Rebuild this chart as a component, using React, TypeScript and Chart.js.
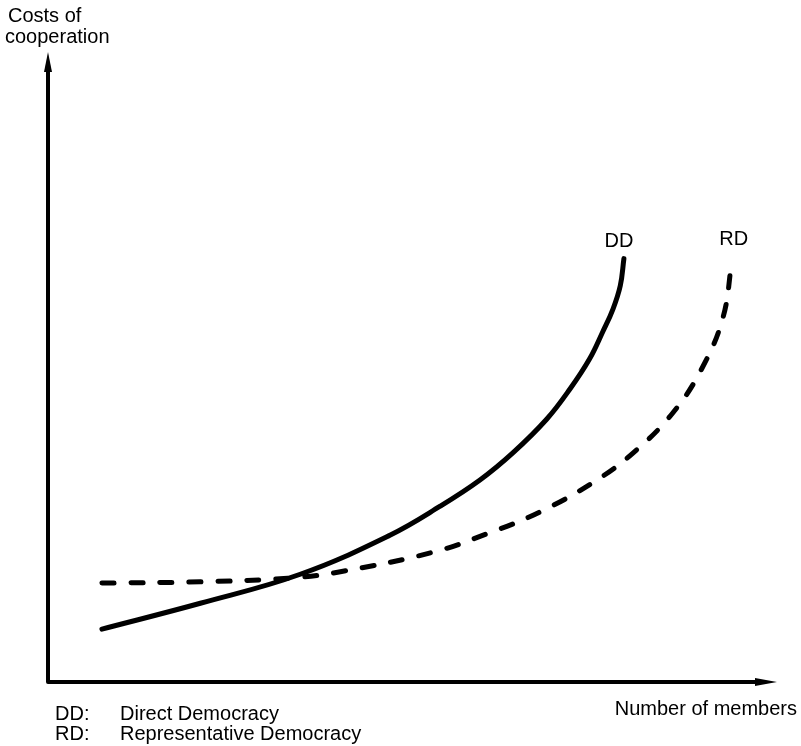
import React, { useEffect, useRef } from "react";
import { Chart, registerables } from "chart.js";

Chart.register(...registerables);

// Data (arbitrary units: members 0..100, costs 0..100)
const ddMembers = [7.4, 20.9, 34.6, 46.9, 53.8, 59.3, 63.8, 68.4, 71.6, 74.3, 76.1, 77.5, 78.5, 79.0];
const ddCosts = [8.4, 12.5, 17.1, 23.3, 27.9, 32.1, 36.4, 41.7, 46.5, 51.3, 55.6, 59.2, 62.9, 67.2];
const rdMembers = [7.4, 20.9, 33.2, 40.1, 52.8, 60.6, 67.5, 74.8, 80.2, 85.7, 89.8, 92.6, 93.8];
const rdCosts = [15.7, 15.9, 16.5, 17.5, 20.6, 23.7, 27.0, 31.7, 36.3, 42.7, 50.0, 57.9, 66.7];
const curveLabels = ["DD", "RD"];
const yTitle = ["Costs of", "cooperation"];
const xTitle = "Number of members";
const legendRows = [
  ["DD:", "Direct Democracy"],
  ["RD:", "Representative Democracy"],
];

const FONT = '"Liberation Sans", Arial, sans-serif';

const axesPlugin = {
  id: "arrowAxes",
  beforeDatasetsDraw(chart: any) {
    const { ctx, chartArea } = chart;
    const { left, right, top, bottom } = chartArea;
    ctx.save();
    ctx.strokeStyle = "#000";
    ctx.fillStyle = "#000";
    ctx.lineWidth = 4;
    ctx.lineCap = "round";
    ctx.lineJoin = "round";
    ctx.beginPath();
    ctx.moveTo(left, top + 14);
    ctx.lineTo(left, bottom);
    ctx.lineTo(right - 14, bottom);
    ctx.stroke();
    // y arrow
    ctx.beginPath();
    ctx.moveTo(left, top);
    ctx.lineTo(left + 4, top + 20);
    ctx.lineTo(left - 4, top + 20);
    ctx.closePath();
    ctx.fill();
    // x arrow
    ctx.beginPath();
    ctx.moveTo(right, bottom);
    ctx.lineTo(right - 22, bottom - 4);
    ctx.lineTo(right - 22, bottom + 4);
    ctx.closePath();
    ctx.fill();
    ctx.restore();
  },
  afterDatasetsDraw(chart: any) {
    const { ctx } = chart;
    const xs = chart.scales.x;
    const ys = chart.scales.y;
    ctx.save();
    ctx.fillStyle = "#000";
    ctx.textBaseline = "alphabetic";
    // curve labels near curve ends
    ctx.font = `20px ${FONT}`;
    ctx.textAlign = "center";
    const ends = [
      [ddMembers[ddMembers.length - 1], ddCosts[ddCosts.length - 1]],
      [rdMembers[rdMembers.length - 1], rdCosts[rdCosts.length - 1]],
    ];
    const offs = [[-5, -12], [2, -17]];
    ends.forEach((e, i) => {
      const px = xs.getPixelForValue(e[0]) + offs[i][0];
      const py = ys.getPixelForValue(e[1]) + offs[i][1];
      ctx.fillText(curveLabels[i], px, py);
    });
    // y title
    ctx.textAlign = "left";
    ctx.font = `20px ${FONT}`;
    ctx.fillText(yTitle[0], 8, 22);
    ctx.fillText(yTitle[1], 5, 43);
    // x title
    ctx.textAlign = "right";
    ctx.fillText(xTitle, 797, 715);
    // legend
    ctx.textAlign = "left";
    ctx.font = `20px ${FONT}`;
    legendRows.forEach((row, i) => {
      const y = 720 + i * 20;
      ctx.fillText(row[0], 55, y);
      ctx.fillText(row[1], 120, y);
    });
    ctx.restore();
  },
};

export default function App() {
  const ref = useRef<HTMLCanvasElement | null>(null);
  useEffect(() => {
    if (!ref.current) return;
    const chart = new Chart(ref.current, {
      type: "line",
      data: {
        datasets: [
          {
            label: "DD",
            data: ddMembers.map((x, i) => ({ x, y: ddCosts[i] })),
            borderColor: "#000",
            borderWidth: 5,
            borderCapStyle: "round",
            pointRadius: 0,
            tension: 0.4,
            fill: false,
          },
          {
            label: "RD",
            data: rdMembers.map((x, i) => ({ x, y: rdCosts[i] })),
            borderColor: "#000",
            borderWidth: 5,
            borderCapStyle: "round",
            borderDash: [12, 17],
            pointRadius: 0,
            tension: 0.4,
            fill: false,
          },
        ],
      },
      options: {
        animation: false,
        responsive: false,
        maintainAspectRatio: false,
        layout: { padding: { left: 48, right: 24, top: 52, bottom: 64 } },
        scales: {
          x: { type: "linear", min: 0, max: 100, display: false },
          y: { type: "linear", min: 0, max: 100, display: false },
        },
        plugins: {
          legend: { display: false },
          tooltip: { enabled: false },
          title: { display: false },
        },
      },
      plugins: [axesPlugin],
    } as any);
    return () => chart.destroy();
  }, []);
  return (
    <div style={{ position: "fixed", left: 0, top: 0, width: 801, height: 746, background: "#fff" }}>
      <canvas ref={ref} width={801} height={746} style={{ display: "block" }} />
    </div>
  );
}
